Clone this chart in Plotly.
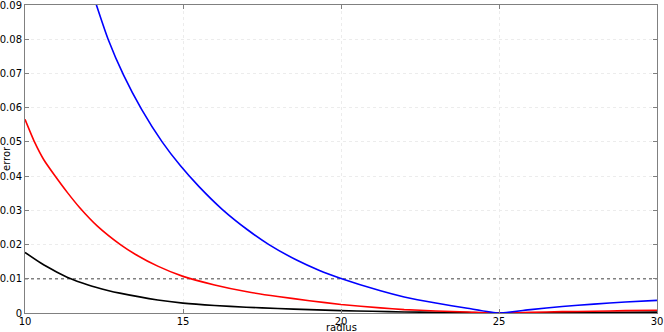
import plotly.graph_objects as go

# ---- data ----
blue_r = [12.0, 12.26, 12.63, 13.12, 13.69, 14.34, 14.92, 15.5, 16.24, 17.03, 17.72,
          18.61, 19.3, 20.0, 21.25, 22.0, 23.0, 24.0, 25.0, 26.0, 27.0, 28.0, 29.0, 30.0]
blue_e = [0.0975, 0.090, 0.080, 0.0695, 0.0595, 0.050, 0.0430, 0.0370, 0.0303, 0.0244, 0.020,
          0.0154, 0.0125, 0.0101, 0.0065, 0.0047, 0.0029, 0.0014, 0.0, 0.0010, 0.0019, 0.0026, 0.0032, 0.0037]

red_r = [10.0, 10.3, 10.6, 10.97, 11.35, 11.72, 12.3, 13.03, 13.5, 14.2, 15.0, 16.0, 17.03,
         18.0, 19.0, 20.0, 21.25, 22.0, 23.0, 24.0, 25.0, 26.0, 27.0, 28.0, 29.0, 30.0]
red_e = [0.0566, 0.050, 0.0447, 0.0398, 0.0351, 0.0309, 0.0253, 0.0199, 0.0171, 0.0137, 0.0107,
         0.0082, 0.0062, 0.0048, 0.0036, 0.0025, 0.0015, 0.0010, 0.0006, 0.0003, 0.0, 0.0002, 0.0004,
         0.0005, 0.0007, 0.0008]

black_r = [10.0, 10.5, 11.0, 11.35, 12.0, 12.62, 13.0, 14.2, 15.0, 16.0, 17.0, 18.0, 19.0, 20.0,
           21.0, 22.0, 23.0, 24.0, 25.0, 26.0, 27.0, 28.0, 29.0, 30.0]
black_e = [0.0177, 0.0146, 0.0120, 0.0104, 0.0082, 0.0066, 0.0058, 0.0038, 0.0029, 0.0022, 0.0017,
           0.0013, 0.0010, 0.0007, 0.0005, 0.0003, 0.0002, 0.0001, 0.0, 0.00005, 0.0001, 0.00015,
           0.0002, 0.00025]

threshold_r = [10, 30]
threshold_e = [0.01, 0.01]

x_ticks = [10, 15, 20, 25, 30]
y_ticks = [0, 0.01, 0.02, 0.03, 0.04, 0.05, 0.06, 0.07, 0.08, 0.09]
y_labels = ["0", "0.01", "0.02", "0.03", "0.04", "0.05", "0.06", "0.07", "0.08", "0.09"]

fig = go.Figure()
fig.add_trace(go.Scatter(x=threshold_r, y=threshold_e, mode="lines",
                         line=dict(color="#808080", width=1.5, dash="dot"), hoverinfo="skip"))
for r, e, c in [(black_r, black_e, "#000000"), (red_r, red_e, "#ff0000"), (blue_r, blue_e, "#0000ff")]:
    fig.add_trace(go.Scatter(x=r, y=e, mode="lines",
                             line=dict(color=c, width=1.6, shape="spline", smoothing=0.5)))

axis_common = dict(showline=True, linecolor="#808080", linewidth=1, mirror="ticks",
                   ticks="inside", ticklen=4, tickcolor="#808080", automargin=False,
                   ticklabeloverflow="allow",
                   showgrid=True, gridcolor="#ececec", griddash="3px,3px", gridwidth=1,
                   zeroline=False, tickfont=dict(family="DejaVu Sans", size=10, color="#000"))

fig.update_layout(
    width=664, height=332,
    margin=dict(l=25, r=7, t=5, b=19),
    paper_bgcolor="white", plot_bgcolor="white",
    showlegend=False,
    xaxis=dict(range=[10, 30], tickvals=x_ticks, ticktext=[str(v) for v in x_ticks],
               ticklabelstandoff=-1, **axis_common),
    yaxis=dict(range=[0, 0.09], tickvals=y_ticks, ticktext=y_labels, **axis_common),
    annotations=[
        dict(text="radius", xref="paper", yref="paper", x=0.5, y=0, yanchor="top",
             yshift=-7, showarrow=False, font=dict(family="DejaVu Sans", size=10, color="#000")),
        dict(text="error", xref="paper", yref="paper", x=0, y=0.5, xanchor="center",
             xshift=-19, textangle=-90, showarrow=False,
             font=dict(family="DejaVu Sans", size=10, color="#000")),
    ],
)
fig.write_html("out.html", config={"displayModeBar": False},
               post_script="document.body.style.margin='0px';")
